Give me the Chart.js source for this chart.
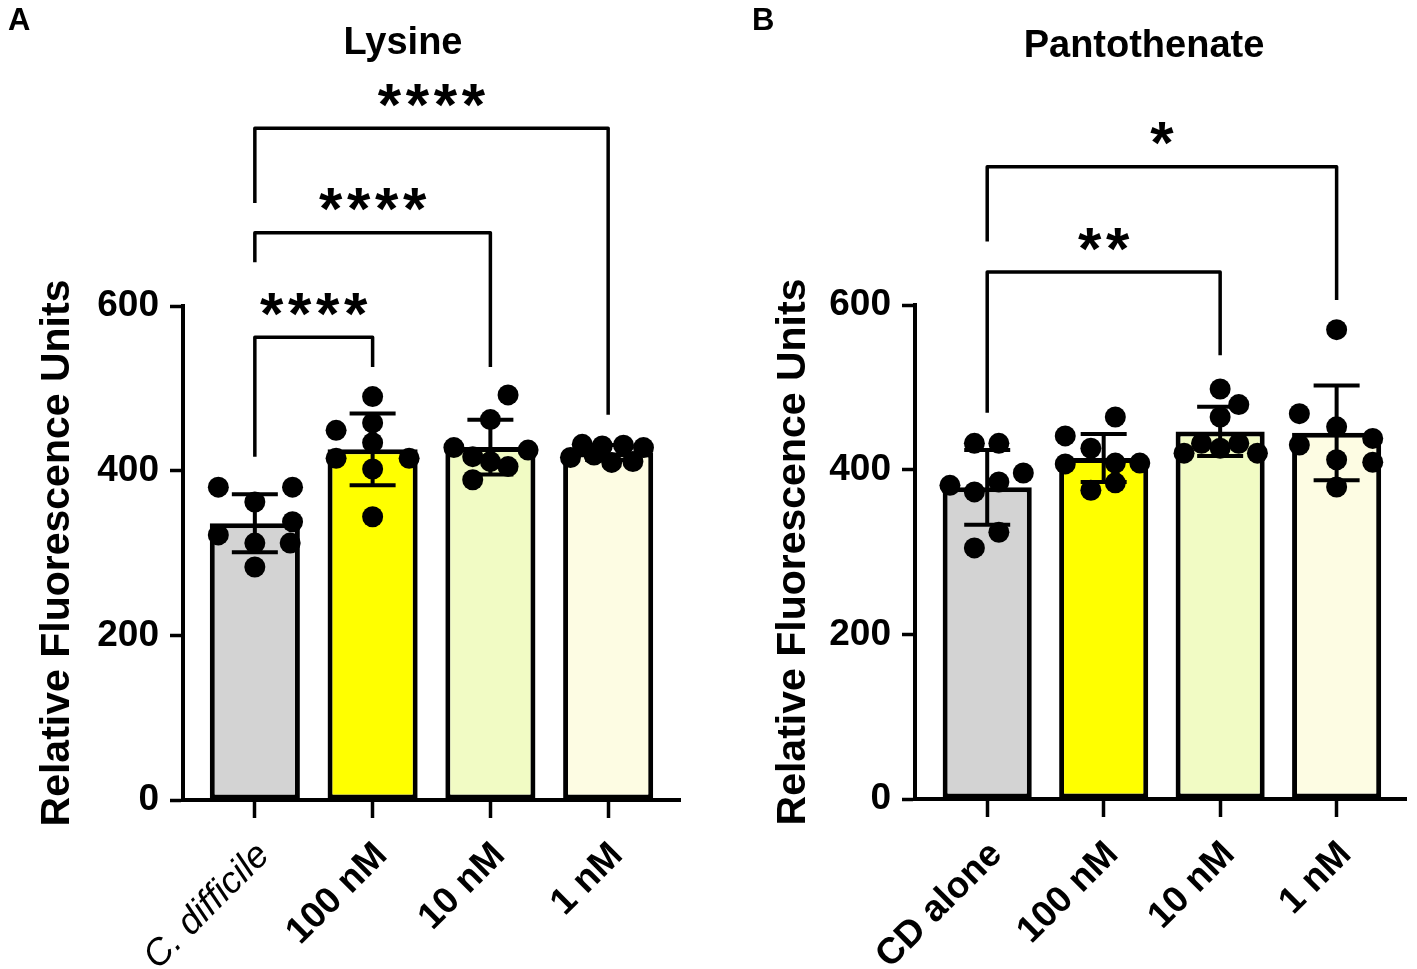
<!DOCTYPE html>
<html>
<head>
<meta charset="utf-8">
<script src="https://cdn.jsdelivr.net/npm/chart.js@4.4.1/dist/chart.umd.min.js"></script>
<style>
  body { margin: 0; background: #fff; }
  #wrap { position: relative; width: 1417px; height: 969px; }
  canvas { position: absolute; top: 0; }
</style>
</head>
<body>
<div id="wrap">
  <canvas id="chartA" width="708" height="969" style="left:0"></canvas>
  <canvas id="chartB" width="709" height="969" style="left:708px"></canvas>
</div>
<script>
const FONT = "'Liberation Sans', Arial, Helvetica, sans-serif";

// A - Lysine
const lysineGroups = ['C. difficile', '100 nM', '10 nM', '1 nM'];
const lysineValues = [
    [380, 380, 362, 338, 322, 312, 312, 283],
    [490, 449, 458, 434, 415, 415, 402, 344],
    [492, 462, 428, 425, 417, 411, 405, 389],
    [416, 432, 430, 410, 431, 411, 428, 419]
];
// horizontal scatter of the dots, in category units
const lysineJitter = [
    [-0.31, 0.32, 0, 0.32, -0.31, 0.30, 0, 0],
    [0, -0.31, 0, 0, -0.31, 0.31, 0, 0],
    [0.15, 0, -0.31, 0.32, -0.15, 0, 0.15, -0.15],
    [-0.32, -0.22, -0.05, 0.03, 0.13, 0.21, 0.30, -0.12]
];

// B - Pantothenate
const pantoGroups = ['CD alone', '100 nM', '10 nM', '1 nM'];
const pantoValues = [
    [432, 432, 396, 381, 373, 385, 324, 305],
    [464, 441, 426, 407, 408, 408, 375, 384],
    [498, 479, 464, 420, 432, 426, 432, 420],
    [570, 468, 452, 438, 430, 412, 409, 379]
];
const pantoJitter = [
    [-0.11, 0.10, 0.31, -0.32, -0.11, 0.10, 0.10, -0.11],
    [0.10, -0.33, -0.11, -0.33, 0.10, 0.31, -0.11, 0.10],
    [0, 0.16, 0, -0.31, -0.16, 0, 0.16, 0.32],
    [0, -0.32, 0, 0.31, -0.32, 0, 0.31, 0]
];

const barColors = ['#d3d3d3', '#ffff00', '#f1fbc4', '#fdfce3'];
const yTicks = [0, 200, 400, 600];

// significance brackets (heights in data units)
const lysineBrackets = [
    { from: 1, to: 2, top: 562, leftEnd: 417, rightEnd: 526, label: '****' },
    { from: 1, to: 3, top: 689, leftEnd: 653, rightEnd: 526, label: '****' },
    { from: 1, to: 4, top: 816, leftEnd: 725, rightEnd: 468, label: '****' }
];
const pantoBrackets = [
    { from: 1, to: 3, top: 640, leftEnd: 469, rightEnd: 539, label: '**' },
    { from: 1, to: 4, top: 768, leftEnd: 677, rightEnd: 606, label: '*' }
];

function mean(a) {
    return a.reduce((s, v) => s + v, 0) / a.length;
}
function sd(a) {
    const m = mean(a);
    return Math.sqrt(a.reduce((s, v) => s + (v - m) * (v - m), 0) / (a.length - 1));
}

function makePanel(id, cfg) {
    const points = [];
    cfg.values.forEach((vals, i) => {
        vals.forEach((v, j) => points.push({ x: i + 1 + cfg.jitter[i][j], y: v }));
    });
    const bars = cfg.values.map((vals, i) => ({ x: i + 1, y: mean(vals) }));

    const errorBars = {
        id: 'errorBars',
        afterDatasetsDraw(chart) {
            const { ctx, scales: { x, y } } = chart;
            ctx.save();
            ctx.strokeStyle = '#000';
            ctx.lineWidth = 4;
            cfg.values.forEach((vals, i) => {
                const m = mean(vals), s = sd(vals);
                const px = x.getPixelForValue(i + 1);
                const top = y.getPixelForValue(m + s);
                const bot = y.getPixelForValue(m - s);
                ctx.beginPath();
                ctx.moveTo(px, top); ctx.lineTo(px, bot);
                ctx.moveTo(px - 23, top); ctx.lineTo(px + 23, top);
                ctx.moveTo(px - 23, bot); ctx.lineTo(px + 23, bot);
                ctx.stroke();
            });
            ctx.restore();
        }
    };

    const brackets = {
        id: 'brackets',
        afterDraw(chart) {
            const { ctx, scales: { x, y } } = chart;
            ctx.save();
            ctx.strokeStyle = '#000';
            ctx.fillStyle = '#000';
            ctx.lineWidth = 3.5;
            ctx.lineJoin = 'round';
            cfg.brackets.forEach(b => {
                const x1 = x.getPixelForValue(b.from);
                const x2 = x.getPixelForValue(b.to);
                const yt = y.getPixelForValue(b.top);
                ctx.beginPath();
                ctx.moveTo(x1, y.getPixelForValue(b.leftEnd));
                ctx.lineTo(x1, yt);
                ctx.lineTo(x2, yt);
                ctx.lineTo(x2, y.getPixelForValue(b.rightEnd));
                ctx.stroke();

                ctx.font = 'bold 60px ' + FONT;
                ctx.textAlign = 'center';
                ctx.textBaseline = 'alphabetic';
                const m = ctx.measureText('*');
                const cy = yt - 33;
                const by = cy + (m.actualBoundingBoxAscent - m.actualBoundingBoxDescent) / 2;
                const n = b.label.length;
                for (let k = 0; k < n; k++) {
                    ctx.fillText('*', (x1 + x2) / 2 + (k - (n - 1) / 2) * 28, by);
                }
            });
            ctx.restore();
        }
    };

    const heading = {
        id: 'heading',
        afterDraw(chart) {
            const ctx = chart.ctx;
            ctx.save();
            ctx.fillStyle = '#000';
            ctx.textBaseline = 'alphabetic';
            ctx.font = 'bold 38px ' + FONT;
            ctx.textAlign = 'center';
            ctx.fillText(cfg.title, cfg.titleX, cfg.titleY);
            ctx.font = 'bold 31px ' + FONT;
            ctx.textAlign = 'left';
            ctx.fillText(cfg.letter, cfg.letterX, 30);
            ctx.restore();
        }
    };

    return new Chart(document.getElementById(id), {
        type: 'bar',
        data: {
            datasets: [
                {
                    type: 'scatter',
                    data: points,
                    backgroundColor: '#000',
                    borderWidth: 0,
                    pointRadius: 10.5,
                    pointHoverRadius: 10.5,
                    clip: false,
                    order: 1
                },
                {
                    data: bars,
                    backgroundColor: barColors,
                    borderColor: '#000',
                    borderWidth: 5,
                    borderSkipped: false,
                    barPercentage: 0.765,
                    categoryPercentage: 1,
                    order: 2
                }
            ]
        },
        options: {
            responsive: false,
            animation: false,
            events: [],
            layout: { padding: { top: cfg.top, right: cfg.right, left: 0, bottom: 0 } },
            plugins: {
                legend: { display: false },
                tooltip: { enabled: false },
                title: { display: false }
            },
            scales: {
                x: {
                    type: 'linear',
                    min: cfg.xMin,
                    max: cfg.xMax,
                    offset: false,
                    afterBuildTicks: s => { s.ticks = cfg.groups.map((g, i) => ({ value: i + 1 })); },
                    afterFit: s => { s.height = cfg.xHeight; },
                    border: { display: true, color: '#000', width: 4 },
                    grid: { offset: false, drawOnChartArea: false, drawTicks: true, tickLength: 18, tickWidth: 3.5, tickColor: '#000' },
                    ticks: {
                        autoSkip: false,
                        minRotation: 45,
                        maxRotation: 45,
                        padding: 16,
                        labelOffset: 9,
                        color: '#000',
                        callback: v => cfg.groups[v - 1],
                        // species name in italics
                        font: c => (cfg.italicFirst && c.index === 0)
                            ? { family: FONT, size: 37, style: 'italic', weight: 'normal' }
                            : { family: FONT, size: 37, weight: 'bold' }
                    }
                },
                y: {
                    min: 0,
                    max: 600,
                    afterBuildTicks: s => { s.ticks = yTicks.map(v => ({ value: v })); },
                    afterFit: s => { s.width = cfg.yWidth; },
                    border: { display: true, color: '#000', width: 4 },
                    grid: { drawOnChartArea: false, drawTicks: true, tickLength: 13, tickWidth: 3.5, tickColor: '#000' },
                    ticks: {
                        padding: 11,
                        color: '#000',
                        font: { family: FONT, size: 37, weight: 'bold' }
                    },
                    title: {
                        display: true,
                        text: 'Relative Fluorescence Units',
                        color: '#000',
                        font: { family: FONT, size: 41, weight: 'bold' },
                        padding: { top: cfg.yTitlePad, bottom: 0 }
                    }
                }
            }
        },
        plugins: [errorBars, brackets, heading]
    });
}

makePanel('chartA', {
    groups: lysineGroups,
    values: lysineValues,
    jitter: lysineJitter,
    brackets: lysineBrackets,
    italicFirst: true,
    title: 'Lysine',
    titleX: 403,
    titleY: 54,
    letter: 'A',
    letterX: 8,
    top: 306,
    right: 28,
    yWidth: 183,
    xHeight: 169,
    xMin: 0.39,
    xMax: 4.61,
    yTitlePad: 33
});

makePanel('chartB', {
    groups: pantoGroups,
    values: pantoValues,
    jitter: pantoJitter,
    brackets: pantoBrackets,
    italicFirst: false,
    title: 'Pantothenate',
    titleX: 436,
    titleY: 57,
    letter: 'B',
    letterX: 44,
    top: 305,
    right: 5,
    yWidth: 207,
    xHeight: 170,
    xMin: 0.38,
    xMax: 4.60,
    yTitlePad: 61
});
</script>
</body>
</html>
